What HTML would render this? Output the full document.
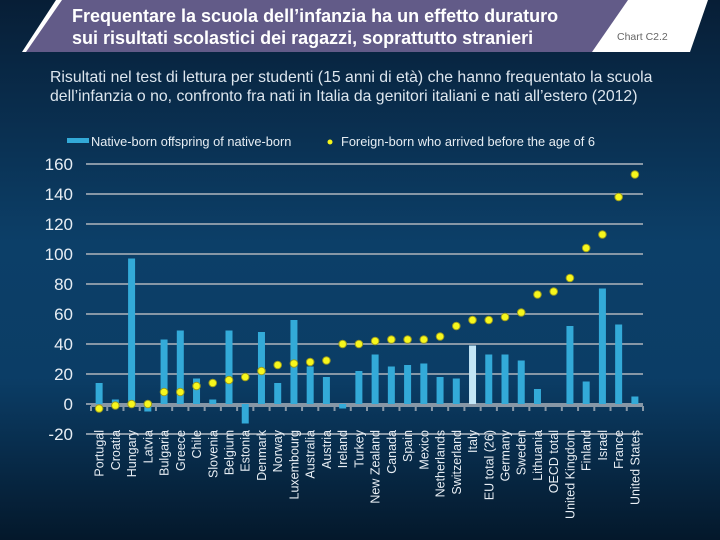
<!DOCTYPE html>
<html><head><meta charset="utf-8"><style>
html,body{margin:0;padding:0;width:720px;height:540px;overflow:hidden}
body{background:linear-gradient(180deg,#071e36 0%,#0c3f68 45%,#0b3d66 70%,#04182b 100%);font-family:"Liberation Sans",sans-serif}
</style></head><body>
<svg width="720" height="540" style="position:absolute;left:0;top:0">
<polygon points="56,0 708,0 690,52 22,52" fill="#ffffff"/>
<polygon points="62,0 628,0 592,52 26,52" fill="#625b88"/>
<text x="72" y="22" fill="#fff" font-size="18" font-weight="bold">Frequentare la scuola dell’infanzia ha un effetto duraturo</text>
<text x="72" y="44" fill="#fff" font-size="18" font-weight="bold">sui risultati scolastici dei ragazzi, soprattutto stranieri</text>
<text x="617" y="40" fill="#666" font-size="10.5">Chart C2.2</text>
<text x="50" y="82" fill="#dde6ee" font-size="15.8">Risultati nel test di lettura per studenti (15 anni di età) che hanno frequentato la scuola</text>
<text x="50" y="101" fill="#dde6ee" font-size="15.8">dell’infanzia o no, confronto fra nati in Italia da genitori italiani e nati all’estero (2012)</text>
<rect x="67" y="138" width="22" height="5" fill="#33aad8"/>
<text x="91" y="146" fill="#e6edf3" font-size="12.8">Native-born offspring of native-born</text>
<circle cx="330" cy="142" r="2.5" fill="#f5f51a"/>
<text x="341" y="146" fill="#e6edf3" font-size="12.8">Foreign-born who arrived before the age of 6</text>
<g id="plot"></g>
</svg>
<script>
const categories=["Portugal","Croatia","Hungary","Latvia","Bulgaria","Greece","Chile","Slovenia","Belgium","Estonia","Denmark","Norway","Luxembourg","Australia","Austria","Ireland","Turkey","New Zealand","Canada","Spain","Mexico","Netherlands","Switzerland","Italy","EU total (26)","Germany","Sweden","Lithuania","OECD total","United Kingdom","Finland","Israel","France","United States"];
const nativeValues=[14,3,97,-5,43,49,17,3,49,-13,48,14,56,25,18,-3,22,33,25,26,27,18,17,39,33,33,29,10,0,52,15,77,53,5];
const foreignValues=[-3,-1,0,0,8,8,12,14,16,18,22,26,27,28,29,40,40,42,43,43,43,45,52,56,56,58,61,73,75,84,104,113,138,153];
const yTicks=[-20,0,20,40,60,80,100,120,140,160];
const NS="http://www.w3.org/2000/svg";
const g=document.getElementById('plot');
const x0=91,x1=643,step=(x1-x0)/categories.length;
const y=v=>404-v*1.5;
const xc=i=>x0+step*(i+0.5);
function mk(t,a){const e=document.createElementNS(NS,t);for(const k in a)e.setAttribute(k,a[k]);g.appendChild(e);return e;}
yTicks.forEach(v=>{
 const l=mk('line',{x1:x0-5,x2:x1,y1:y(v),y2:y(v),stroke:'#8797a6','stroke-width':2});
 
 
 const t=mk('text',{x:73,y:y(v)+6,'text-anchor':'end',fill:'#e8eef4','font-size':17});
 t.textContent=v;
 
 
});
const ax=mk('line',{x1:x0,x2:x1,y1:y(0)+2,y2:y(0)+2,stroke:'#8797a6','stroke-width':2});


for(let i=0;i<=categories.length;i++){
 const tk=mk('line',{x1:x0+step*i,x2:x0+step*i,y1:y(0)+2,y2:y(0)+7,stroke:'#8797a6','stroke-width':2});
 
 
}
categories.forEach((c,i)=>{
 const v=nativeValues[i];
 const b=mk('rect',{x:xc(i)-3.5,width:7,y:Math.min(y(v),y(0)),height:Math.abs(y(v)-y(0)),fill:c==='Italy'?'#c3e6f6':'#33aad8'});
 
 
});
categories.forEach((c,i)=>{
 const d=mk('circle',{cx:xc(i),cy:y(foreignValues[i]),r:3.8,fill:'#f7f71c',stroke:'#9a9a20','stroke-width':1});
 
 
 const t=mk('text',{transform:`translate(${xc(i)+4.5},430) rotate(-90)`,'text-anchor':'end',fill:'#e8eef4','font-size':12.5});
 t.textContent=c;
 
 
});
</script>
</body></html>
